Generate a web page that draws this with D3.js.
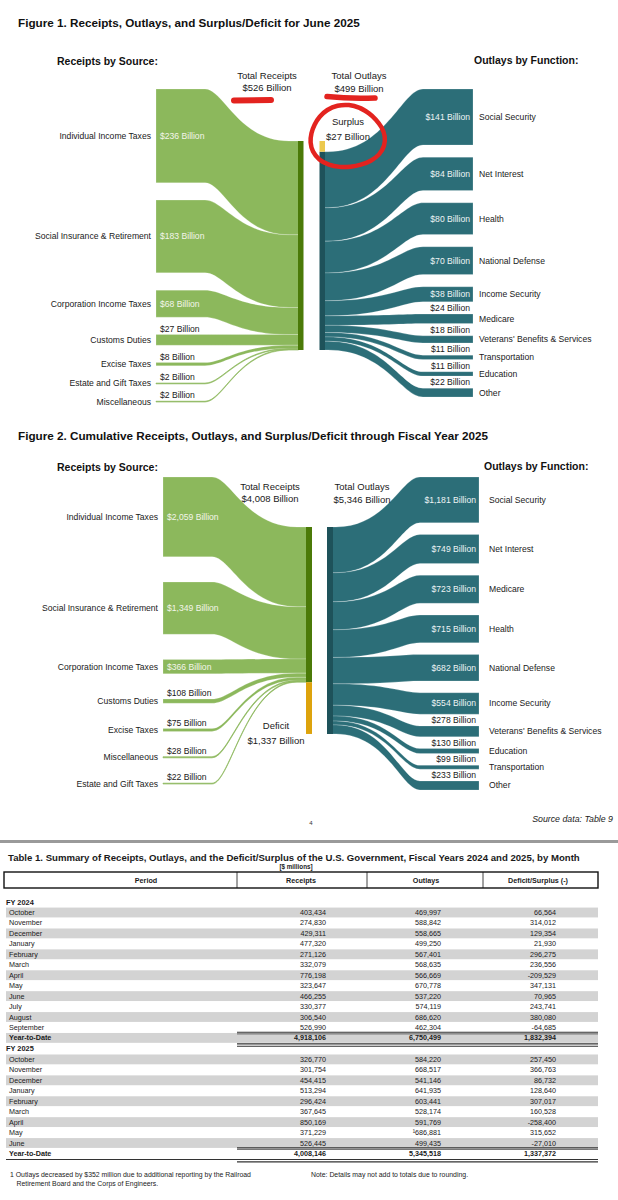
<!DOCTYPE html>
<html>
<head>
<meta charset="utf-8">
<script src="https://cdn.jsdelivr.net/npm/d3@7"></script>
<style>
  body { margin: 0; background: #fff; }
  text { font-family: "Liberation Sans", Arial, sans-serif; }
</style>
</head>
<body>
<svg id="page" width="618" height="1200"></svg>
<script>
'use strict';

/* ---- Figure 1: June 2025 ($ billions) ---- */
var junReceiptNames = ['Individual Income Taxes', 'Social Insurance & Retirement', 'Corporation Income Taxes', 'Customs Duties', 'Excise Taxes', 'Estate and Gift Taxes', 'Miscellaneous'];
var junReceiptValues = [236, 183, 68, 27, 8, 2, 2];
var junOutlayNames = ['Social Security', 'Net Interest', 'Health', 'National Defense', 'Income Security', 'Medicare', "Veterans' Benefits & Services", 'Transportation', 'Education', 'Other'];
var junOutlayValues = [141, 84, 80, 70, 38, 24, 18, 11, 11, 22];
var junTotals = [526, 499, 27]; // receipts, outlays, surplus (+) / deficit (-)

/* ---- Figure 2: FY 2025 through June ($ billions) ---- */
var fyReceiptNames = ['Individual Income Taxes', 'Social Insurance & Retirement', 'Corporation Income Taxes', 'Customs Duties', 'Excise Taxes', 'Miscellaneous', 'Estate and Gift Taxes'];
var fyReceiptValues = [2059, 1349, 366, 108, 75, 28, 22];
var fyOutlayNames = ['Social Security', 'Net Interest', 'Medicare', 'Health', 'National Defense', 'Income Security', "Veterans' Benefits & Services", 'Education', 'Transportation', 'Other'];
var fyOutlayValues = [1181, 749, 723, 715, 682, 554, 278, 130, 99, 233];
var fyTotals = [4008, 5346, -1337];

/* ---- Table 1 ($ millions) ---- */
var months24 = ['October', 'November', 'December', 'January', 'February', 'March', 'April', 'May', 'June', 'July', 'August', 'September', 'Year-to-Date'];
var receipts24 = [403434, 274830, 429311, 477320, 271126, 332079, 776198, 323647, 466255, 330377, 306540, 526990, 4918106];
var outlays24 = [469997, 588842, 558665, 499250, 567401, 568635, 566669, 670778, 537220, 574119, 686620, 462304, 6750499];
var deficit24 = [66564, 314012, 129354, 21930, 296275, 236556, -209529, 347131, 70965, 243741, 380080, -64685, 1832394];
var months25 = ['October', 'November', 'December', 'January', 'February', 'March', 'April', 'May', 'June', 'Year-to-Date'];
var receipts25 = [326770, 301754, 454415, 513294, 296424, 367645, 850169, 371229, 526445, 4008146];
var outlays25 = [584220, 668517, 541146, 641935, 603441, 528174, 591769, 686881, 499435, 5345518];
var deficit25 = [257450, 366763, 86732, 128640, 307017, 160528, -258400, 315652, -27010, 1337372];
var footnoteRow = 'May'; // outlays value carrying footnote 1 in FY 2025

var colors = {
  receipt: '#8cb85c', receiptBar: '#4b7a08',
  outlay: '#2c6e78', outlayBar: '#1e525a',
  surplus: '#ecc94e', deficit: '#dda30d',
  red: '#e3231f'
};

var svg = d3.select('#page');
var billions = function (v) { return '$' + d3.format(',')(v) + ' Billion'; };


// band with a flat part at each end and a curve in between (constant vertical thickness)
// k1, k2: where the two control points sit along the curved part (0..1)
function band(xa, xb, xc, xd, s0, s1, t0, t1, k1, k2) {
  var dx = xc - xb, c1 = xb + k1 * dx, c2 = xb + k2 * dx;
  return 'M' + xa + ',' + s0 + 'L' + xb + ',' + s0 +
    'C' + c1 + ',' + s0 + ' ' + c2 + ',' + t0 + ' ' + xc + ',' + t0 +
    'L' + xd + ',' + t0 + 'L' + xd + ',' + t1 + 'L' + xc + ',' + t1 +
    'C' + c2 + ',' + t1 + ' ' + c1 + ',' + s1 + ' ' + xb + ',' + s1 +
    'L' + xa + ',' + s1 + 'Z';
}


function drawSankey(cfg) {
  var g = svg.append('g');
  var totalR = cfg.totals[0], totalO = cfg.totals[1], bal = cfg.totals[2];
  var h = d3.scaleLinear().domain([0, Math.max(totalR, totalO)]).range([0, cfg.barH]);

  // stack the nodes of one side with equal gaps between top and bottom
  var stack = function (values, y0, y1) {
    var hs = values.map(h);
    var pad = (y1 - y0 - d3.sum(hs)) / (values.length - 1);
    var y = y0;
    return hs.map(function (d, i) {
      var n = { i: i, value: values[i], y0: y, y1: y + d };
      y += d + pad;
      return n;
    });
  };
  var left = stack(cfg.receiptValues, cfg.top, cfg.leftBottom);
  var right = stack(cfg.outlayValues, cfg.top, cfg.rightBottom);

  // slots on the centre bars
  var rTop = cfg.barTop;
  var oTop = cfg.barTop + (bal > 0 ? h(bal) : 0);
  var acc = rTop;
  left.forEach(function (n) { n.t0 = acc; acc += h(n.value); n.t1 = acc; });
  acc = oTop;
  right.forEach(function (n) { n.s0 = acc; acc += h(n.value); n.s1 = acc; });

  var bw = cfg.barW;
  var thin = function (n) { return (n.y1 - n.y0) < 2; };

  // receipt flows: steep near the sources
  g.append('g').selectAll('path')
    .data(left)
    .enter().append('path')
      .attr('d', function (n) { return band(cfg.lx0, cfg.lx1, cfg.rBarX - cfg.lFlat, cfg.rBarX + 0.5, n.y0, n.y1, n.t0, n.t1, 0.22, 0.4); })
      .attr('fill', colors.receipt)
      .attr('stroke', function (n) { return thin(n) ? colors.receipt : '#fff'; })
      .attr('stroke-opacity', function (n) { return thin(n) ? 0.9 : 0.5; })
      .attr('stroke-width', function (n) { return thin(n) ? 0.7 : 0.4; });

  // outlay flows: steep near the functions
  g.append('g').selectAll('path')
    .data(right)
    .enter().append('path')
      .attr('d', function (n) { return band(cfg.oBarX + bw - 0.5, cfg.oBarX + bw + 3, cfg.rx1, cfg.rx2, n.s0, n.s1, n.y0, n.y1, 0.6, 0.78); })
      .attr('fill', colors.outlay)
      .attr('stroke', function (n) { return thin(n) ? colors.outlay : '#fff'; })
      .attr('stroke-opacity', function (n) { return thin(n) ? 0.9 : 0.5; })
      .attr('stroke-width', function (n) { return thin(n) ? 0.7 : 0.4; });

  // centre bars
  g.append('rect')
    .attr('x', cfg.rBarX).attr('y', rTop).attr('width', bw).attr('height', h(totalR))
    .attr('fill', colors.receiptBar);
  g.append('rect')
    .attr('x', cfg.oBarX).attr('y', oTop).attr('width', bw).attr('height', h(totalO))
    .attr('fill', colors.outlayBar);
  if (bal > 0) {
    g.append('rect')
      .attr('x', cfg.oBarX).attr('y', rTop).attr('width', bw).attr('height', h(bal))
      .attr('fill', colors.surplus);
  } else {
    g.append('rect')
      .attr('x', cfg.rBarX).attr('y', rTop + h(totalR)).attr('width', bw).attr('height', h(-bal))
      .attr('fill', colors.deficit);
  }

  // titles
  g.append('text')
    .attr('x', 18).attr('y', cfg.titleY).attr('dy', '0.35em')
    .attr('font-size', 11.7).attr('font-weight', 'bold').attr('fill', '#111')
    .text(cfg.title);
  g.append('text')
    .attr('x', 57).attr('y', cfg.headY).attr('dy', '0.35em')
    .attr('font-size', 10.5).attr('font-weight', 'bold').attr('fill', '#111')
    .text('Receipts by Source:');
  g.append('text')
    .attr('x', cfg.outHeadX).attr('y', cfg.headY - 1).attr('dy', '0.35em')
    .attr('font-size', 10.5).attr('font-weight', 'bold').attr('fill', '#111')
    .text('Outlays by Function:');

  // left labels
  var big = function (n) { return (n.y1 - n.y0) >= 12; };
  var lab = g.append('g').attr('font-size', 8.6);
  lab.selectAll('.cat-l')
    .data(left)
    .enter().append('text')
      .attr('x', cfg.lx0 - 5).attr('y', function (n) { return (n.y0 + n.y1) / 2; })
      .attr('dy', '0.35em').attr('text-anchor', 'end').attr('fill', '#1a1a1a')
      .text(function (n) { return cfg.receiptNames[n.i]; });
  lab.selectAll('.val-l')
    .data(left)
    .enter().append('text')
      .attr('x', cfg.lx0 + 4)
      .attr('y', function (n) { return big(n) ? (n.y0 + n.y1) / 2 : n.y0 - 6; })
      .attr('dy', '0.35em')
      .attr('fill', function (n) { return big(n) ? '#f3f5ea' : '#1a1a1a'; })
      .text(function (n) { return billions(n.value); });

  // right labels
  lab.selectAll('.cat-r')
    .data(right)
    .enter().append('text')
      .attr('x', cfg.rx2 + cfg.rLabGap).attr('y', function (n) { return (n.y0 + n.y1) / 2; })
      .attr('dy', '0.35em').attr('fill', '#1a1a1a')
      .text(function (n) { return cfg.outlayNames[n.i]; });
  lab.selectAll('.val-r')
    .data(right)
    .enter().append('text')
      .attr('x', cfg.rx2 - 3)
      .attr('y', function (n) { return big(n) ? (n.y0 + n.y1) / 2 : n.y0 - 6; })
      .attr('dy', '0.35em').attr('text-anchor', 'end')
      .attr('fill', function (n) { return big(n) ? '#eef4f5' : '#1a1a1a'; })
      .text(function (n) { return billions(n.value); });

  // totals
  var mid = g.append('g').attr('font-size', 9.5).attr('fill', '#1a1a1a').attr('text-anchor', 'middle');
  mid.append('text').attr('x', cfg.totRX).attr('y', cfg.totY).attr('dy', '0.35em').text('Total Receipts');
  mid.append('text').attr('x', cfg.totRX).attr('y', cfg.totY + 11.5).attr('dy', '0.35em').text(billions(totalR));
  mid.append('text').attr('x', cfg.totOX).attr('y', cfg.totY).attr('dy', '0.35em').text('Total Outlays');
  mid.append('text').attr('x', cfg.totOX).attr('y', cfg.totY + 12.5).attr('dy', '0.35em').text(billions(totalO));
  mid.append('text').attr('x', cfg.balX).attr('y', cfg.balY).attr('dy', '0.35em').text(bal > 0 ? 'Surplus' : 'Deficit');
  mid.append('text').attr('x', cfg.balX).attr('y', cfg.balY + 14.5).attr('dy', '0.35em').text(billions(Math.abs(bal)));

  return g;
}


var fig1 = drawSankey({
  title: 'Figure 1. Receipts, Outlays, and Surplus/Deficit for June 2025',
  receiptNames: junReceiptNames, receiptValues: junReceiptValues,
  outlayNames: junOutlayNames, outlayValues: junOutlayValues, totals: junTotals,
  titleY: 23, headY: 61, outHeadX: 474,
  top: 89, leftBottom: 402, rightBottom: 397,
  barTop: 141, barH: 209, barW: 5.5,
  lx0: 156, lx1: 205, lFlat: 9, rBarX: 298, oBarX: 319.5, rx1: 423, rx2: 473, rLabGap: 6,
  totY: 76, totRX: 267, totOX: 359, balX: 348, balY: 122
});

var fig2 = drawSankey({
  title: 'Figure 2. Cumulative Receipts, Outlays, and Surplus/Deficit through Fiscal Year 2025',
  receiptNames: fyReceiptNames, receiptValues: fyReceiptValues,
  outlayNames: fyOutlayNames, outlayValues: fyOutlayValues, totals: fyTotals,
  titleY: 436, headY: 467, outHeadX: 484,
  top: 477, leftBottom: 784, rightBottom: 790,
  barTop: 527, barH: 207, barW: 6,
  lx0: 163, lx1: 212, lFlat: 9, rBarX: 306, oBarX: 327, rx1: 420, rx2: 479, rLabGap: 10,
  totY: 487, totRX: 270, totOX: 362, balX: 276, balY: 726
});

// hand-drawn red marks on figure 1
var marks = fig1.append('g').attr('fill', 'none').attr('stroke', colors.red).attr('stroke-linecap', 'round');
marks.append('path').attr('d', 'M234,100.5 L271,100').attr('stroke-width', 6);
marks.append('path').attr('d', 'M327,96.5 Q350,99 375,98').attr('stroke-width', 5.5);
var loop = d3.range(0, 23).map(function (i) {
  var a = -Math.PI / 2 + 0.35 + i * (2 * Math.PI + 0.3) / 22;
  var r = 1 - 0.04 * Math.sin(i * 0.9);
  return [347 + 37 * r * Math.cos(a), 137 + 31 * r * Math.sin(a)];
});
marks.append('path')
  .attr('d', d3.line().curve(d3.curveCatmullRom)(loop))
  .attr('stroke-width', 4.5);

// page footer of the figures
svg.append('text').attr('x', 311).attr('y', 823).attr('dy', '0.35em')
  .attr('font-size', 6).attr('text-anchor', 'middle').attr('fill', '#333').text('4');
svg.append('text').attr('x', 613).attr('y', 819).attr('dy', '0.35em')
  .attr('font-size', 8.8).attr('font-style', 'italic').attr('text-anchor', 'end').attr('fill', '#1a1a1a')
  .text('Source data: Table 9');
svg.append('rect').attr('x', 0).attr('y', 840).attr('width', 618).attr('height', 3).attr('fill', '#9a9a9a');


/* ---- Table 1 ---- */
function drawTable() {
  var g = svg.append('g').attr('fill', '#1a1a1a');
  var fmt = d3.formatLocale({ decimal: '.', thousands: ',', grouping: [3], currency: ['$', ''], minus: '-' }).format(',');
  var colRight = [326, 441, 556];
  var colLines = [237, 367, 483];
  var x0 = 4, x1 = 598, rowH = 10.45;

  g.append('text').attr('x', 8).attr('y', 858).attr('dy', '0.35em')
    .attr('font-size', 9.6).attr('font-weight', 'bold')
    .text('Table 1. Summary of Receipts, Outlays, and the Deficit/Surplus of the U.S. Government, Fiscal Years 2024 and 2025, by Month');
  g.append('text').attr('x', 296).attr('y', 867).attr('dy', '0.35em')
    .attr('font-size', 6.3).attr('font-weight', 'bold').attr('text-anchor', 'middle')
    .text('[$ millions]');

  // header box
  g.append('rect').attr('x', x0).attr('y', 872).attr('width', x1 - x0).attr('height', 16)
    .attr('fill', 'none').attr('stroke', '#111').attr('stroke-width', 1.4);
  colLines.forEach(function (x) {
    g.append('line').attr('x1', x).attr('x2', x).attr('y1', 872).attr('y2', 888)
      .attr('stroke', '#111').attr('stroke-width', 0.8);
  });
  var heads = ['Period', 'Receipts', 'Outlays', 'Deficit/Surplus (-)'];
  var headX = [146, 301, 426, 538];
  heads.forEach(function (t, i) {
    g.append('text').attr('x', headX[i]).attr('y', 880).attr('dy', '0.35em')
      .attr('font-size', 7.2).attr('font-weight', 'bold').attr('text-anchor', 'middle').text(t);
  });

  var blocks = [
    { label: 'FY 2024', months: months24, cols: [receipts24, outlays24, deficit24], last: false },
    { label: 'FY 2025', months: months25, cols: [receipts25, outlays25, deficit25], last: true }
  ];

  var y = 902; // centre of the block label
  blocks.forEach(function (b) {
    g.append('text').attr('x', 6).attr('y', y).attr('dy', '0.35em')
      .attr('font-size', 7.4).attr('font-weight', 'bold').text(b.label);
    var rowY = function (i) { return y + 10.5 + i * rowH; };

    // shaded rows
    g.selectAll(null)
      .data(b.months.filter(function (m, i) { return i % 2 === 0; }))
      .enter().append('rect')
        .attr('x', 6).attr('width', x1 - 6).attr('height', rowH - 0.6)
        .attr('y', function (m) { return rowY(b.months.indexOf(m)) - rowH / 2 + 0.3; })
        .attr('fill', '#d3d3d3');

    b.months.forEach(function (m, i) {
      var ytd = i === b.months.length - 1;
      var ry = rowY(i);
      g.append('text').attr('x', 9).attr('y', ry).attr('dy', '0.35em')
        .attr('font-size', 7.2).attr('font-weight', ytd ? 'bold' : 'normal').text(m);
      b.cols.forEach(function (col, c) {
        var s = fmt(col[i]);
        if (b.last && c === 1 && m === footnoteRow) s = '\u00b9' + s;
        g.append('text').attr('x', colRight[c]).attr('y', ry).attr('dy', '0.35em')
          .attr('font-size', 7.2).attr('font-weight', ytd ? 'bold' : 'normal')
          .attr('text-anchor', 'end').text(s);
      });
      if (ytd) {
        var line = function (xa, ya, w) {
          g.append('line').attr('x1', xa).attr('x2', x1).attr('y1', ya).attr('y2', ya)
            .attr('stroke', '#333').attr('stroke-width', w);
        };
        line(colLines[0], ry - 5.6, 1.1);
        line(colLines[0], ry - 4.0, 0.7);
        if (b.last) line(6, ry + 6, 1.1); else line(colLines[0], ry + 6, 1.1);
        line(colLines[0], ry + 8.4, 1.1);
        y = ry + 11;
      }
    });
  });

  var foot = g.append('g').attr('font-size', 6.9).attr('fill', '#222');
  foot.append('text').attr('x', 10).attr('y', 1175).attr('dy', '0.35em')
    .text('1 Outlays decreased by $352 million due to additional reporting by the Railroad');
  foot.append('text').attr('x', 16.5).attr('y', 1184).attr('dy', '0.35em')
    .text('Retirement Board and the Corps of Engineers.');
  foot.append('text').attr('x', 311).attr('y', 1175).attr('dy', '0.35em')
    .text('Note: Details may not add to totals due to rounding.');
}

drawTable();
</script>
</body>
</html>
